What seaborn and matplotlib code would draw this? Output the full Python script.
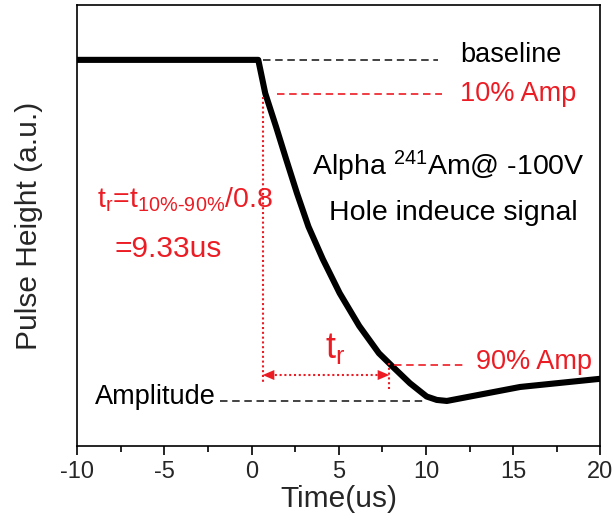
import matplotlib
matplotlib.use("Agg")
import matplotlib.pyplot as plt
import seaborn as sns
import pandas as pd

# ---- data ----
time_us = [-10, 0.38, 0.78, 1.40, 1.99, 2.60, 3.26, 4.08, 5.05, 6.17, 7.30,
           8.10, 9.08, 10.04, 10.62, 11.2, 15.4, 20]
pulse_height = [1.0, 1.0, 0.902, 0.804, 0.707, 0.609, 0.511, 0.416, 0.316,
                0.220, 0.140, 0.100, 0.052, 0.013, 0.003, 0.0, 0.041, 0.065]
x_ticks = [-10, -5, 0, 5, 10, 15, 20]
baseline_level = 1.0
amp10_level = 0.9
amp90_level = 0.1
amplitude_level = 0.0
t10 = 0.63
t90 = 7.9

sns.set_theme(style="white")
plt.rcParams["font.family"] = ["Liberation Sans", "DejaVu Sans"]
plt.rcParams["mathtext.default"] = "regular"

RED = "#ec1c24"

df = pd.DataFrame({"Time": time_us, "Height": pulse_height})

fig = plt.figure(figsize=(6.14, 5.24), dpi=100)
ax = fig.add_axes([0.1259, 0.1489, 0.9777 - 0.1259, 0.9899 - 0.1489])

sns.lineplot(data=df, x="Time", y="Height", ax=ax, color="black", lw=4.4,
             solid_joinstyle="round", solid_capstyle="round")

# reference lines
dash = (0, (4.5, 2.8))
ax.plot([0.65, 10.7], [baseline_level] * 2, color="#222222", lw=1.2, ls=dash)
ax.plot([-1.8, 10.0], [amplitude_level] * 2, color="#222222", lw=1.2, ls=dash)
ax.plot([1.45, 10.9], [amp10_level] * 2, color=RED, lw=1.2, ls=dash)
ax.plot([8.15, 12.1], [amp90_level + 0.005] * 2, color=RED, lw=1.2, ls=dash)

# dotted verticals
ax.plot([t10, t10], [amp10_level - 0.01, 0.05], color=RED, lw=1.5, ls=(0, (1, 1.3)))
ax.plot([t90, t90], [amp90_level + 0.01, 0.035], color=RED, lw=1.5, ls=(0, (1, 1.3)))

# double-headed arrow
ya = 0.076
ax.plot([t10 + 0.4, t90 - 0.4], [ya, ya], color=RED, lw=1.5, ls=(0, (1, 1.3)))
for xa, xb in [(t10 + 0.9, t10), (t90 - 0.9, t90)]:
    ax.annotate("", xy=(xb, ya), xytext=(xa, ya),
                arrowprops=dict(arrowstyle="-|>,head_length=0.7,head_width=0.3",
                                color=RED, lw=0.01, shrinkA=0, shrinkB=0))

# texts
ax.text(11.95, 1.015, "baseline", fontsize=19.5, color="black", ha="left", va="center")
ax.text(11.95, 0.9, "10% Amp", fontsize=19.5, color=RED, ha="left", va="center")
ax.text(12.87, 0.115, "90% Amp", fontsize=19.5, color=RED, ha="left", va="center")
ax.text(-2.05, 0.012, "Amplitude", fontsize=19.5, color="black", ha="right", va="center")
ax.text(11.29, 0.687, "Alpha $^{241}$Am@ -100V", fontsize=20.5, color="black",
        ha="center", va="center")
ax.text(11.57, 0.551, "Hole indeuce signal", fontsize=20.5, color="black",
        ha="center", va="center")
ax.text(-8.89, 0.566, "t$_r$=t$_{10\\%\u201090\\%}$/0.8", fontsize=20.5, color=RED,
        ha="left", va="baseline")
ax.text(-7.84, 0.423, "=9.33us", fontsize=21.5, color=RED, ha="left", va="baseline")
ax.text(4.78, 0.126, "t$_r$", fontsize=26, color=RED, ha="center", va="baseline")

ax.set_xlim(-10, 20)
ax.set_ylim(-0.132, 1.160)
ax.set_xticks(x_ticks)
ax.set_xticklabels([str(t) for t in x_ticks])
ax.set_xticks([-7.5, -2.5, 2.5, 7.5, 12.5, 17.5], minor=True)
ax.set_yticks([])
ax.tick_params(axis="x", which="major", direction="out", length=6.5, width=1.2,
               labelsize=17, pad=4, bottom=True, top=False, color="black")
ax.tick_params(axis="x", which="minor", direction="out", length=4, width=1.2,
               bottom=True, top=False, color="black")
for s in ax.spines.values():
    s.set_visible(True)
    s.set_color("black")
    s.set_linewidth(1.2)

ax.set_xlabel("Time(us)", fontsize=21.5, labelpad=2)
ax.set_ylabel("Pulse Height (a.u.)", fontsize=21.5, labelpad=25)

fig.savefig("out.png", dpi=100)
